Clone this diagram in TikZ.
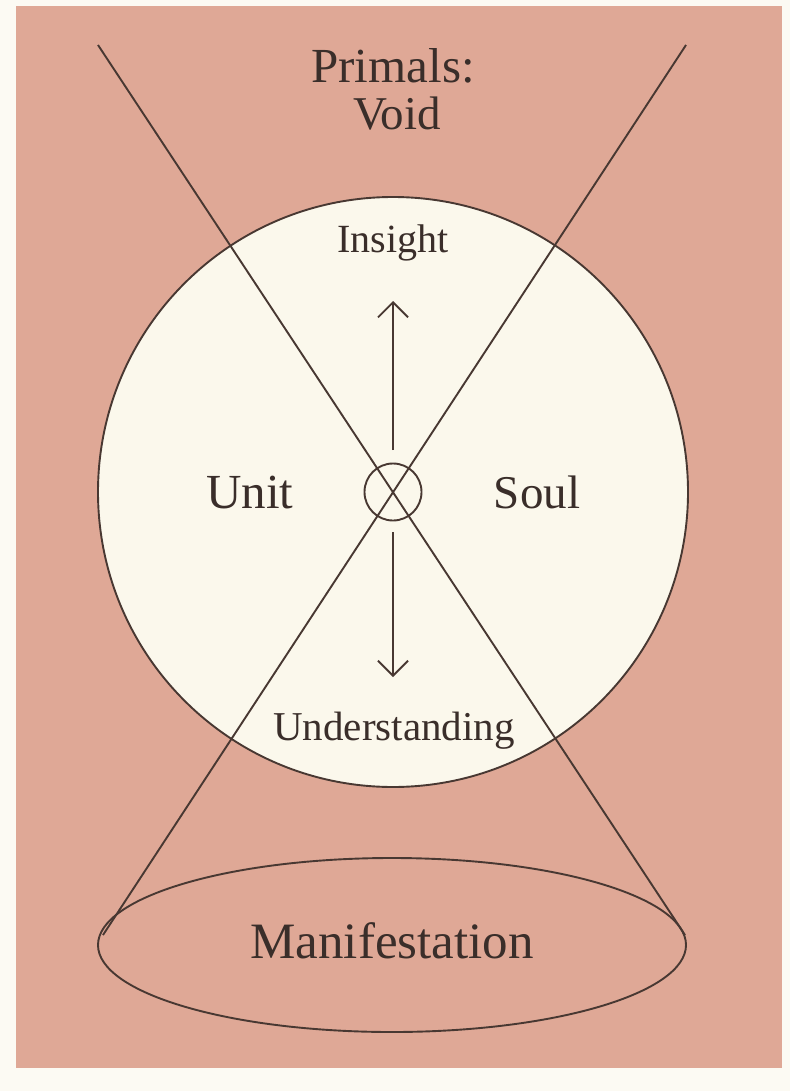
\documentclass[tikz,border=0pt]{standalone}
\usepackage{fontspec}
\setmainfont{Liberation Serif}
\usetikzlibrary{arrows.meta,shapes.geometric}
\definecolor{bgpink}{RGB}{223,168,150}
\definecolor{cream}{RGB}{251,248,236}
\definecolor{page}{RGB}{252,250,243}
\definecolor{ink}{RGB}{72,56,50}
\definecolor{txt}{RGB}{58,46,42}
\begin{document}
\begin{tikzpicture}[x=1pt,y=-1pt,
  line/.style={draw=ink,line width=1.9pt},
  lbl/.style={text=txt,anchor=base,inner sep=0pt},
  arr/.style={line,-{Straight Barb[length=15pt,width=30pt,line width=1.9pt]}}]
\fill[page] (0,0) rectangle (790,1091);
\useasboundingbox (0,0) rectangle (790,1091);
\fill[bgpink] (16,6) rectangle (782,1068);
% big circle
\node[circle,minimum size=590pt,inner sep=0pt,fill=cream,line] (big) at (393,492) {};
% crossing lines
\coordinate (tl) at (98,45);
\coordinate (tr) at (686,45);
\coordinate (br) at (685,935);
\coordinate (bl) at (103,935);
\draw[line] (tl) -- (br);
\draw[line] (tr) -- (bl);
% hub
\node[circle,minimum size=57pt,inner sep=0pt,line] (hub) at (393,492) {};
% arrows
\coordinate (upS) at (393,450);
\coordinate (upE) at (393,301);
\coordinate (dnS) at (393,532);
\coordinate (dnE) at (393,677);
\draw[arr] (upS) -- (upE);
\draw[arr] (dnS) -- (dnE);
% ellipse
\node[ellipse,minimum width=588pt,minimum height=174pt,inner sep=0pt,line] (man) at (392,945) {};
% labels
\node[lbl,font=\fontsize{49}{58}\selectfont] (primals) at (393,83) {Primals:};
\node[lbl,font=\fontsize{47}{56}\selectfont] (void) at (397,130) {Void};
\node[lbl,font=\fontsize{40}{48}\selectfont] (insight) at (393,252) {Insight};
\node[lbl,font=\fontsize{49}{58}\selectfont] (unit) at (250,508) {Unit};
\node[lbl,font=\fontsize{47}{56}\selectfont] (soul) at (537,508) {Soul};
\node[lbl,font=\fontsize{41}{49}\selectfont] (under) at (394,740) {Understanding};
\node[lbl,font=\fontsize{51}{60}\selectfont] (manif) at (392,958) {Manifestation};
\end{tikzpicture}
\end{document}
